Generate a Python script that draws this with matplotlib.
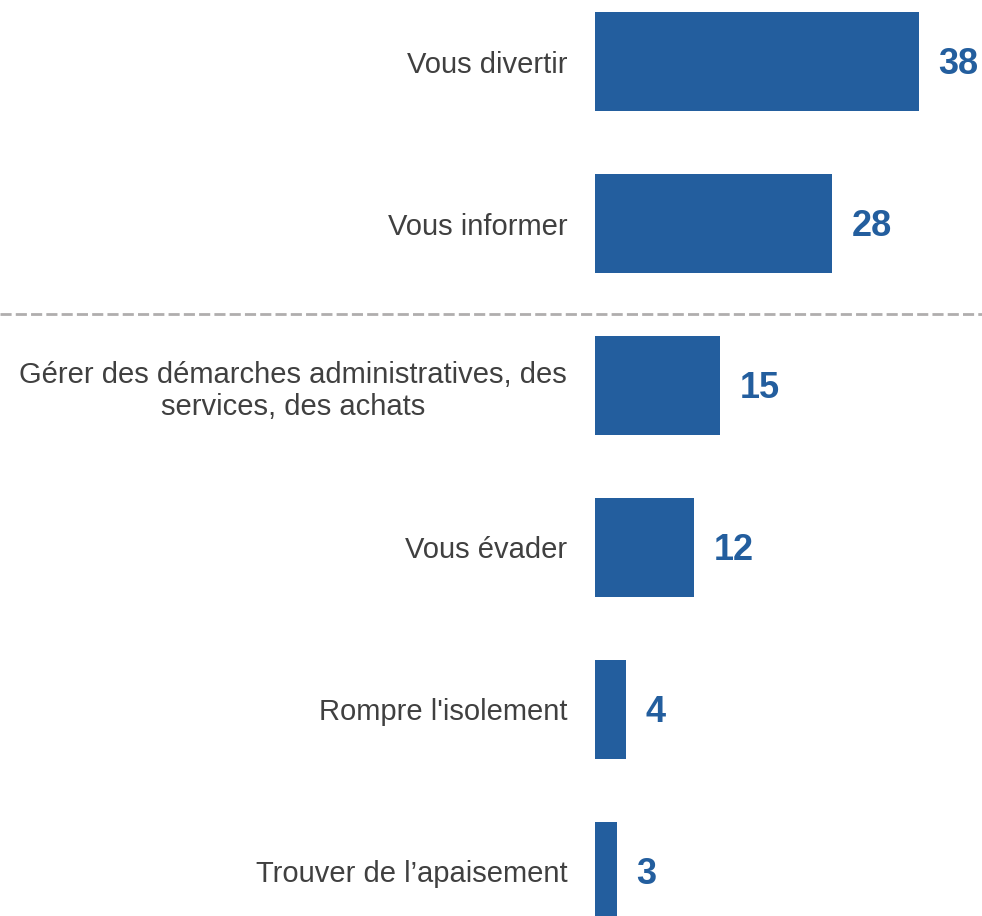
import numpy as np
import matplotlib.pyplot as plt
import matplotlib.transforms as mtransforms

# data
categories = [
    "Vous divertir",
    "Vous informer",
    "Gérer des démarches administratives, des\nservices, des achats",
    "Vous évader",
    "Rompre l'isolement",
    "Trouver de l\u2019apaisement",
]
values = [38.1, 27.9, 14.7, 11.7, 3.6, 2.6]

bar_color = "#235E9E"
text_color = "#404040"

plt.rcParams['font.family'] = ['Liberation Sans', 'DejaVu Sans']

fig = plt.figure(figsize=(9.82, 9.16), dpi=100)
ax = fig.add_axes([595 / 982, 0, 387 / 982, 1])

y = np.arange(len(categories))
ax.barh(y, values, height=0.61, color=bar_color)

for yi, v in zip(y, values):
    ax.annotate(f"{v:.0f}", xy=(v, yi), xytext=(14, -2), textcoords="offset points",
                ha="left", va="center", fontsize=26, fontweight="bold",
                color=bar_color)

ax.set_xlim(0, 387 / 8.5)
ax.set_ylim(len(categories) - 1 + 0.275, -0.38)

ax.set_yticks(y)
ax.set_yticklabels(categories, fontsize=21, color=text_color,
                   multialignment="center")
ax.tick_params(axis="y", length=0, pad=20)
ax.set_xticks([])
for s in ax.spines.values():
    s.set_visible(False)

# dashed separator across the full width
trans = mtransforms.blended_transform_factory(fig.transFigure, ax.transData)
ax.plot([0, 1], [1.56, 1.56], transform=trans, clip_on=False,
        color="#B0AEAE", linestyle=(0, (4, 1.5)), linewidth=2)

fig.savefig("out.png", dpi=100)
